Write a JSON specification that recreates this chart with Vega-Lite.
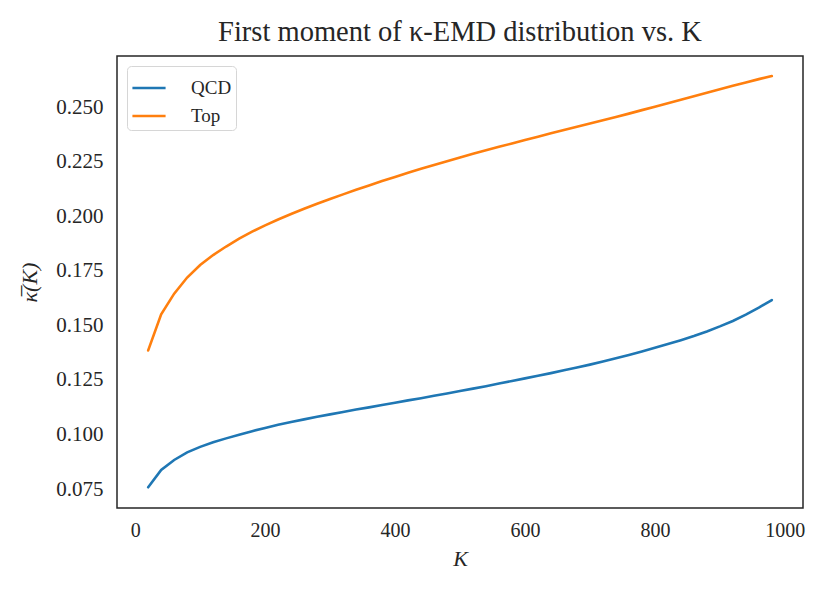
{
  "$schema": "https://vega.github.io/schema/vega-lite/v6.json",
  "autosize": "none",
  "width": 686,
  "height": 452,
  "padding": {"left": 117, "top": 56, "right": 27, "bottom": 85},
  "background": "white",
  "config": {
    "font": "Liberation Serif",
    "view": {"stroke": "#262626", "strokeWidth": 1.5},
    "axis": {"domain": false, "ticks": false, "grid": false, "labelFont": "Liberation Serif", "labelColor": "#262626", "titleFont": "Liberation Serif", "titleColor": "#262626", "labelFontSize": 20, "titleFontSize": 22, "titleFontWeight": "normal"},
    "title": {"font": "Liberation Serif", "fontSize": 28.5, "fontWeight": "normal", "color": "#262626"}
  },
  "title": {"text": "First moment of κ-EMD distribution vs. K", "offset": 10, "anchor": "middle"},
  "datasets": {
    "d": [
      {"K": 20, "v": 0.0758, "s": "QCD"}, {"K": 40, "v": 0.0837, "s": "QCD"}, {"K": 60, "v": 0.0883, "s": "QCD"}, {"K": 80, "v": 0.0918, "s": "QCD"}, {"K": 100, "v": 0.0943, "s": "QCD"},
      {"K": 120, "v": 0.0964, "s": "QCD"}, {"K": 140, "v": 0.0982, "s": "QCD"}, {"K": 160, "v": 0.0999, "s": "QCD"}, {"K": 180, "v": 0.1015, "s": "QCD"}, {"K": 200, "v": 0.1030, "s": "QCD"},
      {"K": 220, "v": 0.1044, "s": "QCD"}, {"K": 240, "v": 0.1057, "s": "QCD"}, {"K": 260, "v": 0.1069, "s": "QCD"}, {"K": 280, "v": 0.1081, "s": "QCD"}, {"K": 300, "v": 0.1092, "s": "QCD"},
      {"K": 320, "v": 0.1103, "s": "QCD"}, {"K": 340, "v": 0.1114, "s": "QCD"}, {"K": 360, "v": 0.1124, "s": "QCD"}, {"K": 380, "v": 0.1135, "s": "QCD"}, {"K": 400, "v": 0.1145, "s": "QCD"},
      {"K": 420, "v": 0.1156, "s": "QCD"}, {"K": 440, "v": 0.1166, "s": "QCD"}, {"K": 460, "v": 0.1177, "s": "QCD"}, {"K": 480, "v": 0.1188, "s": "QCD"}, {"K": 500, "v": 0.1199, "s": "QCD"},
      {"K": 520, "v": 0.1210, "s": "QCD"}, {"K": 540, "v": 0.1221, "s": "QCD"}, {"K": 560, "v": 0.1233, "s": "QCD"}, {"K": 580, "v": 0.1245, "s": "QCD"}, {"K": 600, "v": 0.1257, "s": "QCD"},
      {"K": 620, "v": 0.1269, "s": "QCD"}, {"K": 640, "v": 0.1281, "s": "QCD"}, {"K": 660, "v": 0.1294, "s": "QCD"}, {"K": 680, "v": 0.1307, "s": "QCD"}, {"K": 700, "v": 0.1320, "s": "QCD"},
      {"K": 720, "v": 0.1334, "s": "QCD"}, {"K": 740, "v": 0.1349, "s": "QCD"}, {"K": 760, "v": 0.1364, "s": "QCD"}, {"K": 780, "v": 0.1380, "s": "QCD"}, {"K": 800, "v": 0.1397, "s": "QCD"},
      {"K": 820, "v": 0.1414, "s": "QCD"}, {"K": 840, "v": 0.1432, "s": "QCD"}, {"K": 860, "v": 0.1451, "s": "QCD"}, {"K": 880, "v": 0.1472, "s": "QCD"}, {"K": 900, "v": 0.1495, "s": "QCD"},
      {"K": 920, "v": 0.1520, "s": "QCD"}, {"K": 940, "v": 0.1549, "s": "QCD"}, {"K": 960, "v": 0.1581, "s": "QCD"}, {"K": 980, "v": 0.1616, "s": "QCD"},
      {"K": 20, "v": 0.1385, "s": "Top"}, {"K": 40, "v": 0.1550, "s": "Top"}, {"K": 60, "v": 0.1645, "s": "Top"}, {"K": 80, "v": 0.1719, "s": "Top"}, {"K": 100, "v": 0.1776, "s": "Top"},
      {"K": 120, "v": 0.1822, "s": "Top"}, {"K": 140, "v": 0.1861, "s": "Top"}, {"K": 160, "v": 0.1897, "s": "Top"}, {"K": 180, "v": 0.1929, "s": "Top"}, {"K": 200, "v": 0.1958, "s": "Top"},
      {"K": 220, "v": 0.1985, "s": "Top"}, {"K": 240, "v": 0.2010, "s": "Top"}, {"K": 260, "v": 0.2034, "s": "Top"}, {"K": 280, "v": 0.2057, "s": "Top"}, {"K": 300, "v": 0.2079, "s": "Top"},
      {"K": 320, "v": 0.2100, "s": "Top"}, {"K": 340, "v": 0.2121, "s": "Top"}, {"K": 360, "v": 0.2141, "s": "Top"}, {"K": 380, "v": 0.2161, "s": "Top"}, {"K": 400, "v": 0.2180, "s": "Top"},
      {"K": 420, "v": 0.2199, "s": "Top"}, {"K": 440, "v": 0.2217, "s": "Top"}, {"K": 460, "v": 0.2235, "s": "Top"}, {"K": 480, "v": 0.2252, "s": "Top"}, {"K": 500, "v": 0.2269, "s": "Top"},
      {"K": 520, "v": 0.2286, "s": "Top"}, {"K": 540, "v": 0.2302, "s": "Top"}, {"K": 560, "v": 0.2318, "s": "Top"}, {"K": 580, "v": 0.2333, "s": "Top"}, {"K": 600, "v": 0.2349, "s": "Top"},
      {"K": 620, "v": 0.2364, "s": "Top"}, {"K": 640, "v": 0.2380, "s": "Top"}, {"K": 660, "v": 0.2395, "s": "Top"}, {"K": 680, "v": 0.2410, "s": "Top"}, {"K": 700, "v": 0.2425, "s": "Top"},
      {"K": 720, "v": 0.2440, "s": "Top"}, {"K": 740, "v": 0.2455, "s": "Top"}, {"K": 760, "v": 0.2470, "s": "Top"}, {"K": 780, "v": 0.2486, "s": "Top"}, {"K": 800, "v": 0.2502, "s": "Top"},
      {"K": 820, "v": 0.2518, "s": "Top"}, {"K": 840, "v": 0.2534, "s": "Top"}, {"K": 860, "v": 0.2550, "s": "Top"}, {"K": 880, "v": 0.2566, "s": "Top"}, {"K": 900, "v": 0.2582, "s": "Top"},
      {"K": 920, "v": 0.2598, "s": "Top"}, {"K": 940, "v": 0.2613, "s": "Top"}, {"K": 960, "v": 0.2628, "s": "Top"}, {"K": 980, "v": 0.2642, "s": "Top"}
    ]
  },
  "data": {"name": "d"},
  "mark": {"type": "line", "strokeWidth": 2.6, "strokeCap": "round"},
  "encoding": {
    "x": {"field": "K", "type": "quantitative", "scale": {"domain": [-28, 1028], "nice": false, "zero": false},
      "axis": {"values": [0, 200, 400, 600, 800, 1000], "format": "d", "labelPadding": 12, "title": "K", "titleFontStyle": "italic", "titlePadding": 8}},
    "y": {"field": "v", "type": "quantitative", "scale": {"domain": [0.0663, 0.2734], "nice": false, "zero": false},
      "axis": {"values": [0.075, 0.1, 0.125, 0.15, 0.175, 0.2, 0.225, 0.25], "format": ".3f", "labelPadding": 14, "labelFontSize": 21, "title": "κ̅(K)", "titleFontStyle": "italic", "titlePadding": 14}},
    "color": {"field": "s", "type": "nominal", "scale": {"domain": ["QCD", "Top"], "range": ["#1f77b4", "#ff7f0e"]},
      "legend": {"title": null, "orient": "top-left", "offset": 10, "symbolType": "stroke", "symbolSize": 1100, "symbolStrokeWidth": 2.6,
        "labelFontSize": 19, "labelFont": "Liberation Serif", "labelColor": "#262626", "labelOffset": 24, "rowPadding": -4,
        "padding": 4, "strokeColor": "#d6d6d6", "fillColor": "rgba(255,255,255,0.8)", "cornerRadius": 4}}
  }
}
